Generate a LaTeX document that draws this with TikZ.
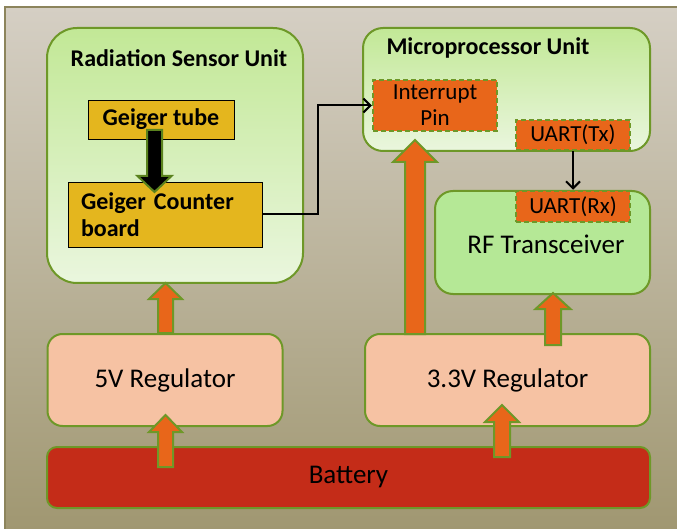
\documentclass[tikz,border=0pt]{standalone}
\usepackage{fontspec}
\setmainfont{Carlito}
\usetikzlibrary{arrows.meta}

\definecolor{bgtop}{RGB}{213,207,196}
\definecolor{bgbot}{RGB}{160,151,113}
\definecolor{bgedge}{RGB}{140,132,92}
\definecolor{unitline}{RGB}{110,152,40}
\definecolor{unittop}{RGB}{194,232,150}
\definecolor{unitbot}{RGB}{234,246,222}
\definecolor{rfgreen}{RGB}{181,232,150}
\definecolor{gold}{RGB}{228,182,30}
\definecolor{pinorange}{RGB}{232,102,26}
\definecolor{peach}{RGB}{246,194,163}
\definecolor{battred}{RGB}{196,44,24}
\definecolor{darkline}{RGB}{90,130,30}

\tikzset{
  unit/.style={draw=unitline, line width=2pt, rounded corners=#1,
    top color=unittop, bottom color=unitbot, inner sep=0pt},
  unit/.default=28pt,
  title/.style={font=\fontsize{24}{27}\selectfont\bfseries, inner sep=0pt},
  partbox/.style={draw=black, line width=0.8pt, fill=gold, inner sep=0pt,
    font=\fontsize{24}{27}\selectfont\bfseries},
  pin/.style={draw=unitline, line width=2.5pt, dash pattern=on 5pt off 3pt,
    fill=pinorange, inner sep=0pt, align=center,
    font=\fontsize{23}{26}\selectfont},
  regbox/.style={draw=unitline, line width=2pt, rounded corners=15pt,
    fill=peach, inner sep=0pt, font=\fontsize{27}{30}\selectfont},
  power/.style={draw=unitline, line width=2pt, fill=pinorange, line join=miter},
  signal/.style={draw=black, line width=2pt,
    -{Straight Barb[length=7pt,width=14pt,line width=2pt]}},
}

% vertical block arrows: style, x centre, tip y, foot y, half shaft, half head, head length
\newcommand{\powerup}[7]{%
  \draw[#1] (#2-#5,#4) -- (#2-#5,#3+#7) -- (#2-#6,#3+#7) -- (#2,#3)
    -- (#2+#6,#3+#7) -- (#2+#5,#3+#7) -- (#2+#5,#4) -- cycle;}
\newcommand{\powerdown}[7]{%
  \draw[#1] (#2-#5,#4) -- (#2-#5,#3-#7) -- (#2-#6,#3-#7) -- (#2,#3)
    -- (#2+#6,#3-#7) -- (#2+#5,#3-#7) -- (#2+#5,#4) -- cycle;}

\begin{document}
\begin{tikzpicture}[x=1pt,y=-1pt]
\useasboundingbox (0,0) rectangle (677,529);

% backdrop
\shade[top color=bgtop, bottom color=bgbot] (5,7) rectangle (678,530);
\draw[bgedge, line width=1.5pt] (5,530) -- (5,7) -- (678,7);

% radiation sensor unit
\node[unit=30pt, minimum width=256pt, minimum height=255pt] (rad) at (175,155.5) {};
\node[title] (radtitle) at (179,58) {Radiation Sensor Unit};
\node[partbox, minimum width=146pt, minimum height=39pt] (tube) at (161,119.5) {Geiger tube};
\node[partbox, minimum width=194pt, minimum height=65pt, text width=168pt,
  inner xsep=13pt, align=left] (board) at (165,214.5) {Geiger Counter\\board};

% microprocessor unit
\node[unit=20pt, minimum width=287pt, minimum height=123pt] (mcu) at (506.5,89.5) {};
\node[title] (mcutitle) at (488,48) {Microprocessor Unit};
\node[pin, minimum width=124pt, minimum height=51pt] (irq) at (435,105.5) {Interrupt\\Pin};
\node[pin, minimum width=114pt, minimum height=30pt] (tx) at (573,135) {UART(Tx)};

% RF transceiver
\node[draw=unitline, line width=2pt, rounded corners=18pt, fill=rfgreen,
  minimum width=215pt, minimum height=103pt, inner sep=0pt] (rf) at (542.5,242.5) {};
\node[font=\fontsize{27}{30}\selectfont, inner sep=0pt] (rflabel) at (546,244) {RF Transceiver};
\node[pin, minimum width=114pt, minimum height=31pt] (rx) at (573,206.5) {UART(Rx)};

% regulators and battery
\node[regbox, minimum width=235pt, minimum height=92pt] (reg5) at (165,380) {5V Regulator};
\node[regbox, minimum width=285pt, minimum height=92pt] (reg33) at (507.5,380) {3.3V Regulator};
\node[draw=unitline, line width=2pt, rounded corners=10pt, fill=battred,
  minimum width=603pt, minimum height=61pt, inner sep=0pt,
  font=\fontsize{27}{30}\selectfont] (batt) at (348.5,477.5) {Battery};

% signal lines
\draw[signal] (board.east) -- ++(56,0) |- (irq.west);
\draw[signal] (tx.south) -- (rx.north);

% tube to board
\powerdown{draw=darkline, line width=2pt, fill=black, line join=miter}{154.5}{192}{130}{7.5}{17}{16}

% power feeds
\powerup{power}{165.5}{283}{333}{7.5}{16.5}{16}
\powerup{power}{165.5}{415}{467}{7.5}{16.5}{17}
\powerup{power}{415}{140}{334}{10}{22}{22}
\powerup{power}{553}{293}{345}{8}{17.5}{16}
\powerup{power}{502}{405}{457}{8}{17}{17}
\end{tikzpicture}
\end{document}
